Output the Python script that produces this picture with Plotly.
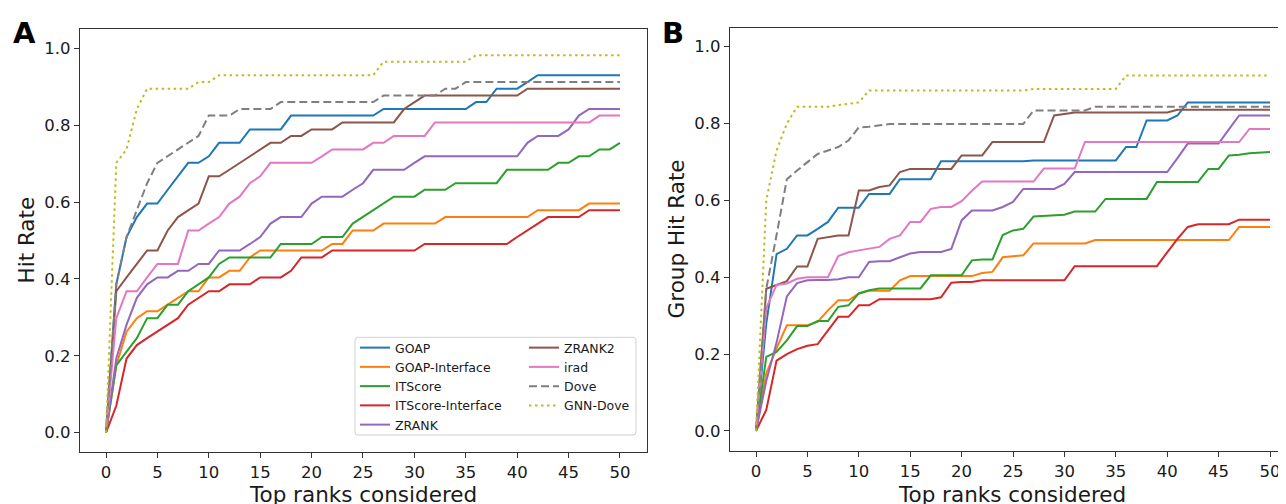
import plotly.graph_objects as go

ranks = list(range(0, 51))

methods = ["GOAP", "GOAP-Interface", "ITScore", "ITScore-Interface", "ZRANK",
           "ZRANK2", "irad", "Dove", "GNN-Dove"]
colors = ["#1f77b4", "#ff7f0e", "#2ca02c", "#d62728", "#9467bd",
          "#8c564b", "#e377c2", "#7f7f7f", "#bcbd22"]
dashes = ["solid", "solid", "solid", "solid", "solid",
          "solid", "solid", "8px,4px", "2.5px,3.5px"]

# ---- Panel A: Hit Rate ----
hit_goap = [0.000, 0.386, 0.509, 0.561, 0.596, 0.596, 0.632, 0.667, 0.702, 0.702,
            0.719, 0.754, 0.754, 0.754, 0.789, 0.789, 0.789, 0.789, 0.825, 0.825,
            0.825, 0.825, 0.825, 0.825, 0.825, 0.825, 0.825, 0.842, 0.842, 0.842,
            0.842, 0.842, 0.842, 0.842, 0.842, 0.842, 0.860, 0.860, 0.895, 0.895,
            0.895, 0.912, 0.930, 0.930, 0.930, 0.930, 0.930, 0.930, 0.930, 0.930, 0.930]
hit_goap_if = [0.000, 0.175, 0.263, 0.298, 0.316, 0.316, 0.333, 0.351, 0.368, 0.368,
               0.404, 0.404, 0.421, 0.421, 0.456, 0.474, 0.474, 0.474, 0.474, 0.474,
               0.474, 0.474, 0.491, 0.491, 0.526, 0.526, 0.526, 0.544, 0.544, 0.544,
               0.544, 0.544, 0.544, 0.561, 0.561, 0.561, 0.561, 0.561, 0.561, 0.561,
               0.561, 0.561, 0.579, 0.579, 0.579, 0.579, 0.579, 0.596, 0.596, 0.596, 0.596]
hit_itscore = [0.000, 0.175, 0.211, 0.246, 0.298, 0.298, 0.333, 0.333, 0.368, 0.386,
               0.404, 0.439, 0.456, 0.456, 0.456, 0.456, 0.456, 0.491, 0.491, 0.491,
               0.491, 0.509, 0.509, 0.509, 0.544, 0.561, 0.579, 0.596, 0.614, 0.614,
               0.614, 0.632, 0.632, 0.632, 0.649, 0.649, 0.649, 0.649, 0.649, 0.684,
               0.684, 0.684, 0.684, 0.684, 0.702, 0.702, 0.719, 0.719, 0.737, 0.737, 0.754]
hit_itscore_if = [0.000, 0.070, 0.193, 0.228, 0.246, 0.263, 0.281, 0.298, 0.333, 0.351,
                  0.368, 0.368, 0.386, 0.386, 0.386, 0.404, 0.404, 0.404, 0.421, 0.456,
                  0.456, 0.456, 0.474, 0.474, 0.474, 0.474, 0.474, 0.474, 0.474, 0.474,
                  0.474, 0.491, 0.491, 0.491, 0.491, 0.491, 0.491, 0.491, 0.491, 0.491,
                  0.509, 0.526, 0.544, 0.561, 0.561, 0.561, 0.561, 0.579, 0.579, 0.579, 0.579]
hit_zrank = [0.000, 0.193, 0.281, 0.351, 0.386, 0.404, 0.404, 0.421, 0.421, 0.439,
             0.439, 0.474, 0.474, 0.474, 0.491, 0.509, 0.544, 0.561, 0.561, 0.561,
             0.596, 0.614, 0.614, 0.614, 0.632, 0.649, 0.684, 0.684, 0.684, 0.684,
             0.702, 0.719, 0.719, 0.719, 0.719, 0.719, 0.719, 0.719, 0.719, 0.719,
             0.719, 0.754, 0.772, 0.772, 0.772, 0.789, 0.825, 0.842, 0.842, 0.842, 0.842]
hit_zrank2 = [0.000, 0.368, 0.404, 0.439, 0.474, 0.474, 0.526, 0.561, 0.579, 0.596,
              0.667, 0.667, 0.684, 0.702, 0.719, 0.737, 0.754, 0.754, 0.772, 0.772,
              0.789, 0.789, 0.789, 0.807, 0.807, 0.807, 0.807, 0.807, 0.807, 0.842,
              0.860, 0.877, 0.877, 0.877, 0.877, 0.877, 0.877, 0.877, 0.877, 0.877,
              0.877, 0.895, 0.895, 0.895, 0.895, 0.895, 0.895, 0.895, 0.895, 0.895, 0.895]
hit_irad = [0.000, 0.298, 0.368, 0.368, 0.404, 0.439, 0.439, 0.439, 0.526, 0.526,
            0.544, 0.561, 0.596, 0.614, 0.649, 0.667, 0.702, 0.702, 0.702, 0.702,
            0.702, 0.719, 0.737, 0.737, 0.737, 0.737, 0.754, 0.754, 0.772, 0.772,
            0.772, 0.772, 0.807, 0.807, 0.807, 0.807, 0.807, 0.807, 0.807, 0.807,
            0.807, 0.807, 0.807, 0.807, 0.807, 0.807, 0.807, 0.807, 0.825, 0.825, 0.825]
hit_dove = [0.000, 0.386, 0.509, 0.579, 0.649, 0.702, 0.719, 0.737, 0.754, 0.772,
            0.825, 0.825, 0.825, 0.842, 0.842, 0.842, 0.842, 0.860, 0.860, 0.860,
            0.860, 0.860, 0.860, 0.860, 0.860, 0.860, 0.860, 0.877, 0.877, 0.877,
            0.877, 0.877, 0.877, 0.895, 0.895, 0.912, 0.912, 0.912, 0.912, 0.912,
            0.912, 0.912, 0.912, 0.912, 0.912, 0.912, 0.912, 0.912, 0.912, 0.912, 0.912]
hit_gnndove = [0.000, 0.702, 0.737, 0.842, 0.895, 0.895, 0.895, 0.895, 0.895, 0.912,
               0.912, 0.930, 0.930, 0.930, 0.930, 0.930, 0.930, 0.930, 0.930, 0.930,
               0.930, 0.930, 0.930, 0.930, 0.930, 0.930, 0.930, 0.965, 0.965, 0.965,
               0.965, 0.965, 0.965, 0.965, 0.965, 0.965, 0.982, 0.982, 0.982, 0.982,
               0.982, 0.982, 0.982, 0.982, 0.982, 0.982, 0.982, 0.982, 0.982, 0.982, 0.982]

# ---- Panel B: Group Hit Rate ----
grp_goap = [0.000, 0.280, 0.460, 0.474, 0.509, 0.509, 0.526, 0.544, 0.581, 0.581,
            0.581, 0.617, 0.617, 0.617, 0.655, 0.655, 0.655, 0.655, 0.702, 0.702,
            0.702, 0.702, 0.702, 0.702, 0.702, 0.702, 0.702, 0.704, 0.704, 0.704,
            0.704, 0.704, 0.704, 0.704, 0.704, 0.704, 0.739, 0.739, 0.808, 0.808,
            0.808, 0.821, 0.855, 0.855, 0.855, 0.855, 0.855, 0.855, 0.855, 0.855, 0.855]
grp_goap_if = [0.000, 0.150, 0.215, 0.275, 0.275, 0.275, 0.284, 0.314, 0.340, 0.340,
               0.358, 0.365, 0.365, 0.365, 0.392, 0.403, 0.403, 0.403, 0.403, 0.403,
               0.403, 0.403, 0.411, 0.414, 0.452, 0.455, 0.457, 0.488, 0.488, 0.488,
               0.488, 0.488, 0.488, 0.497, 0.497, 0.497, 0.497, 0.497, 0.497, 0.497,
               0.497, 0.497, 0.497, 0.497, 0.497, 0.497, 0.497, 0.531, 0.531, 0.531, 0.531]
grp_itscore = [0.000, 0.193, 0.206, 0.236, 0.273, 0.273, 0.286, 0.286, 0.323, 0.327,
               0.358, 0.366, 0.371, 0.371, 0.371, 0.371, 0.371, 0.405, 0.405, 0.405,
               0.405, 0.444, 0.446, 0.446, 0.510, 0.522, 0.526, 0.558, 0.560, 0.561,
               0.563, 0.571, 0.571, 0.571, 0.604, 0.604, 0.604, 0.604, 0.604, 0.648,
               0.648, 0.648, 0.648, 0.648, 0.682, 0.682, 0.717, 0.719, 0.723, 0.724, 0.726]
grp_itscore_if = [0.000, 0.055, 0.183, 0.200, 0.213, 0.222, 0.226, 0.262, 0.297, 0.297,
                  0.327, 0.327, 0.343, 0.343, 0.343, 0.343, 0.343, 0.343, 0.348, 0.386,
                  0.388, 0.388, 0.392, 0.392, 0.392, 0.392, 0.392, 0.392, 0.392, 0.392,
                  0.392, 0.429, 0.429, 0.429, 0.429, 0.429, 0.429, 0.429, 0.429, 0.429,
                  0.465, 0.500, 0.531, 0.538, 0.538, 0.538, 0.538, 0.550, 0.550, 0.550, 0.550]
grp_zrank = [0.000, 0.130, 0.230, 0.350, 0.385, 0.392, 0.393, 0.393, 0.395, 0.400,
             0.400, 0.440, 0.442, 0.442, 0.452, 0.462, 0.466, 0.466, 0.466, 0.474,
             0.548, 0.574, 0.574, 0.574, 0.583, 0.596, 0.630, 0.630, 0.630, 0.630,
             0.643, 0.674, 0.674, 0.674, 0.674, 0.674, 0.674, 0.674, 0.674, 0.674,
             0.674, 0.710, 0.748, 0.748, 0.748, 0.748, 0.785, 0.821, 0.821, 0.821, 0.821]
grp_zrank2 = [0.000, 0.370, 0.380, 0.390, 0.428, 0.428, 0.500, 0.505, 0.509, 0.509,
              0.626, 0.626, 0.635, 0.639, 0.674, 0.682, 0.682, 0.682, 0.682, 0.682,
              0.717, 0.717, 0.717, 0.752, 0.752, 0.752, 0.752, 0.752, 0.752, 0.821,
              0.825, 0.829, 0.829, 0.829, 0.829, 0.829, 0.829, 0.829, 0.829, 0.829,
              0.829, 0.836, 0.836, 0.836, 0.836, 0.836, 0.836, 0.836, 0.836, 0.836, 0.836]
grp_irad = [0.000, 0.320, 0.380, 0.384, 0.396, 0.400, 0.400, 0.400, 0.455, 0.465,
            0.470, 0.474, 0.479, 0.500, 0.509, 0.544, 0.544, 0.578, 0.583, 0.583,
            0.598, 0.625, 0.649, 0.649, 0.649, 0.649, 0.649, 0.649, 0.683, 0.683,
            0.683, 0.683, 0.752, 0.752, 0.752, 0.752, 0.752, 0.752, 0.752, 0.752,
            0.752, 0.752, 0.752, 0.752, 0.752, 0.752, 0.752, 0.752, 0.786, 0.786, 0.786]
grp_dove = [0.000, 0.370, 0.510, 0.655, 0.678, 0.700, 0.721, 0.730, 0.739, 0.756,
            0.790, 0.792, 0.795, 0.799, 0.799, 0.799, 0.799, 0.799, 0.799, 0.799,
            0.799, 0.799, 0.799, 0.799, 0.799, 0.799, 0.799, 0.834, 0.834, 0.834,
            0.834, 0.834, 0.834, 0.844, 0.844, 0.844, 0.844, 0.844, 0.844, 0.844,
            0.844, 0.844, 0.844, 0.844, 0.844, 0.844, 0.844, 0.844, 0.844, 0.844, 0.844]
grp_gnndove = [0.000, 0.600, 0.730, 0.800, 0.844, 0.844, 0.844, 0.844, 0.848, 0.851,
               0.855, 0.886, 0.886, 0.886, 0.886, 0.886, 0.886, 0.886, 0.886, 0.886,
               0.886, 0.886, 0.886, 0.886, 0.886, 0.886, 0.886, 0.890, 0.890, 0.890,
               0.890, 0.890, 0.890, 0.890, 0.890, 0.890, 0.925, 0.925, 0.925, 0.925,
               0.925, 0.925, 0.925, 0.925, 0.925, 0.925, 0.925, 0.925, 0.925, 0.925, 0.925]

panel_a = [hit_goap, hit_goap_if, hit_itscore, hit_itscore_if, hit_zrank,
           hit_zrank2, hit_irad, hit_dove, hit_gnndove]
panel_b = [grp_goap, grp_goap_if, grp_itscore, grp_itscore_if, grp_zrank,
           grp_zrank2, grp_irad, grp_dove, grp_gnndove]

W, H = 1286, 504
OFF = 8  # page body margin offset of the embedded figure
FONT = "DejaVu Sans"
TXT = "#1a1a1a"
AX = "#333333"


def px_x(p):
    # page pixel -> paper fraction
    return (p - OFF) / W


def px_y(p):
    return (H - (p - OFF)) / H


fig = go.Figure()

for i, name in enumerate(methods):
    fig.add_trace(go.Scatter(
        x=ranks, y=panel_a[i], mode="lines", name=name,
        line=dict(color=colors[i], width=2, dash=dashes[i]),
        xaxis="x", yaxis="y",
        legend="legend" if i < 5 else "legend2",
        hoverinfo="skip"))

for i, name in enumerate(methods):
    fig.add_trace(go.Scatter(
        x=ranks, y=panel_b[i], mode="lines", name=name, showlegend=False,
        line=dict(color=colors[i], width=2, dash=dashes[i]),
        xaxis="x2", yaxis="y2", hoverinfo="skip"))

axis_common = dict(
    showgrid=False, zeroline=False, showline=True, linecolor=AX, linewidth=1.3,
    ticks="outside", ticklen=5, tickwidth=1.2, tickcolor=AX,
    tickfont=dict(family=FONT, size=16.5, color=TXT), automargin=False,
    ticklabeloverflow="allow",
)

xticks = [0, 5, 10, 15, 20, 25, 30, 35, 40, 45, 50]
yticks = [0.0, 0.2, 0.4, 0.6, 0.8, 1.0]

# panel B extends past the right edge of the window
b_left_px = 730
b_zero_px = 756
unit_px = 10.28
b_right_px = W + OFF
b_range = [(b_left_px - b_zero_px) / unit_px, (b_right_px - b_zero_px) / unit_px]

fig.update_layout(
    width=W, height=H,
    margin=dict(l=0, r=0, t=0, b=0, pad=0),
    paper_bgcolor="white", plot_bgcolor="white",
    font=dict(family=FONT, color=TXT),
    xaxis=dict(axis_common, domain=[px_x(80), px_x(647)], range=[-2.53, 52.63],
               tickvals=xticks, mirror=True, anchor="y"),
    yaxis=dict(axis_common, domain=[px_y(451.7), px_y(29.3)], range=[-0.0494, 1.0494],
               tickvals=yticks, tickformat=".1f", mirror=True, anchor="x"),
    xaxis2=dict(axis_common, domain=[px_x(b_left_px), 1.0], range=b_range,
                tickvals=xticks, mirror=True, anchor="y2"),
    yaxis2=dict(axis_common, domain=[px_y(450.7), px_y(28)], range=[-0.0513, 1.0487],
                tickvals=yticks, tickformat=".1f", mirror=False, anchor="x2"),
    legend=dict(x=px_x(355), y=px_y(333), xanchor="left", yanchor="top",
                orientation="v", bgcolor="rgba(0,0,0,0)", borderwidth=0,
                font=dict(family=FONT, size=12.5, color=TXT), tracegroupgap=0),
    legend2=dict(x=px_x(524), y=px_y(333), xanchor="left", yanchor="top",
                 orientation="v", bgcolor="rgba(0,0,0,0)", borderwidth=0,
                 font=dict(family=FONT, size=12.5, color=TXT), tracegroupgap=0),
    showlegend=True,
)

# legend frame (rounded)
x0, x1 = px_x(355), px_x(636)
y0, y1 = px_y(435), px_y(337.3)
rx, ry = 3 / W, 3 / H
path = (f"M{x0+rx},{y1} L{x1-rx},{y1} Q{x1},{y1} {x1},{y1-ry} "
        f"L{x1},{y0+ry} Q{x1},{y0} {x1-rx},{y0} L{x0+rx},{y0} "
        f"Q{x0},{y0} {x0},{y0+ry} L{x0},{y1-ry} Q{x0},{y1} {x0+rx},{y1} Z")
fig.add_shape(type="path", path=path, xref="paper", yref="paper",
              line=dict(color="#d0d0d0", width=1), fillcolor="rgba(255,255,255,0.8)",
              layer="below")

title_font = dict(family=FONT, size=21.5, color=TXT)
annots = [
    dict(text="Top ranks considered", x=px_x(363.5), y=px_y(494), xanchor="center",
         yanchor="middle", font=title_font),
    dict(text="Top ranks considered", x=px_x(1012), y=px_y(494), xanchor="center",
         yanchor="middle", font=title_font),
    dict(text="Hit Rate", x=px_x(26), y=px_y(240.5), xanchor="center",
         yanchor="middle", textangle=-90, font=title_font),
    dict(text="Group Hit Rate", x=px_x(676), y=px_y(239.4), xanchor="center",
         yanchor="middle", textangle=-90, font=title_font),
    dict(text="<b>A</b>", x=px_x(24), y=px_y(32.5), xanchor="center",
         yanchor="middle", font=dict(family=FONT, size=29, color="#000000")),
    dict(text="<b>B</b>", x=px_x(673), y=px_y(33), xanchor="center",
         yanchor="middle", font=dict(family=FONT, size=29, color="#000000")),
]
for a in annots:
    fig.add_annotation(xref="paper", yref="paper", showarrow=False, **a)

fig.write_html("out.html")
